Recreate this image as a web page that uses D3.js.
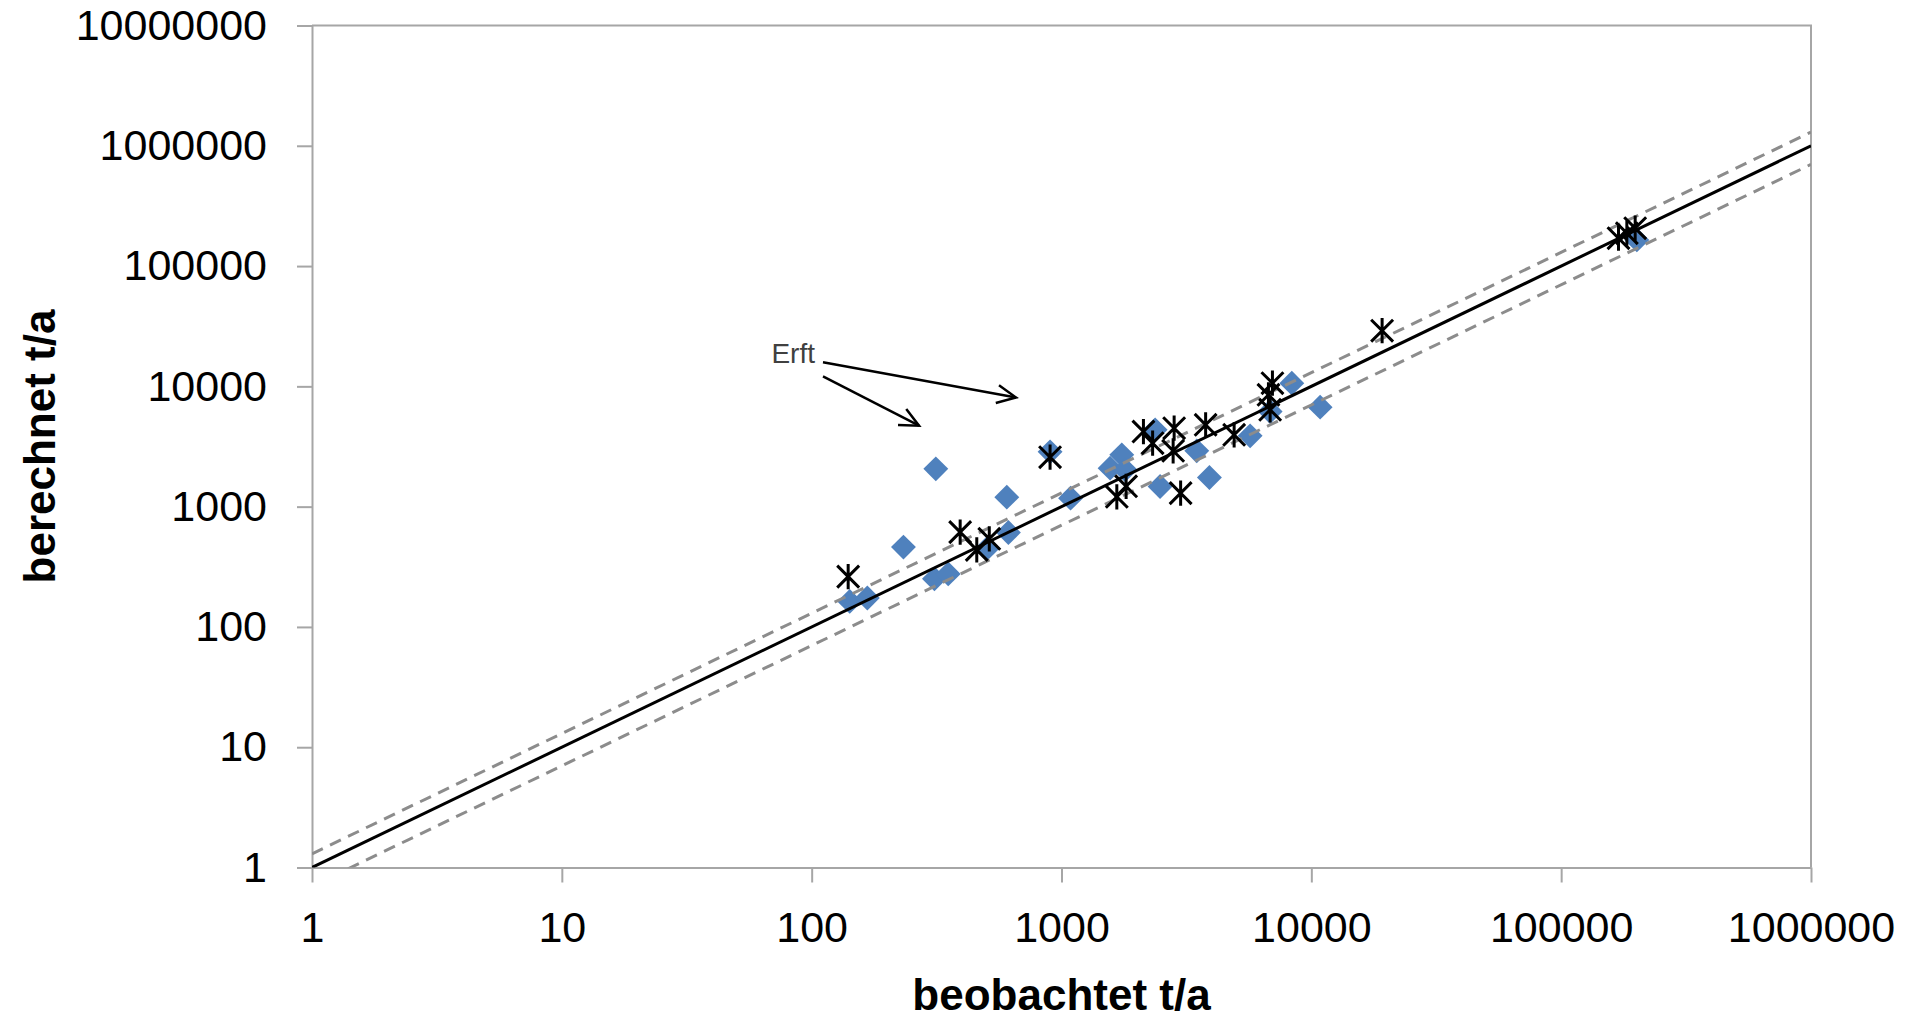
<!DOCTYPE html>
<html>
<head>
<meta charset="utf-8">
<script src="https://cdn.jsdelivr.net/npm/d3@7"></script>
<style>
  html, body { margin: 0; padding: 0; background: #fff; }
  svg { display: block; }
</style>
</head>
<body>
<div id="chart"></div>
<script>
// beobachtet (x) vs. berechnet (y), t/a
const diamondObserved = [142, 167, 233, 310, 352, 314, 505, 613, 604, 900, 1087, 1565, 1743, 1797, 2370, 2481, 3479, 3909, 5689, 6841, 8353, 10845, 200900]
const diamondComputed = [163, 174, 461, 251, 276, 2062, 452, 609, 1199, 2855, 1177, 2089, 2696, 2023, 4348, 1469, 2910, 1745, 3877, 6173, 10630, 6716, 165100]

const starObserved = [140, 393, 458, 514, 900, 1665, 1814, 2128, 2316, 2824, 2798, 2998, 3775, 4909, 6987, 6735, 6841, 19200, 169600, 183200, 197800]
const starComputed = [262, 614, 437, 540, 2579, 1206, 1475, 4210, 3372, 4492, 2910, 1295, 4786, 3952, 10630, 8502, 6378, 29040, 170600, 187700, 206500]

const xTicks = [1, 10, 100, 1000, 10000, 100000, 1000000]
const yTicks = [1, 10, 100, 1000, 10000, 100000, 1000000, 10000000]

// 1:1 line and the two band lines
const lineFactors = [1, 1.3, 0.7]

// annotation "Erft" (data units)
const erftLabel = { text: 'Erft', x: 69, y: 15600 }
const erftArrows = [
  { from: [111, 15850], to: [658, 8070] },
  { from: [111, 12130], to: [269, 4710] }
]

const W = 1921
const H = 1021
const margin = { top: 25.5, right: 110, bottom: 153.5, left: 312 }
const axisColor = '#a6a6a6'
const font = '"Liberation Sans", Arial, sans-serif'

const svg = d3.select('#chart')
  .append('svg')
  .attr('width', W)
  .attr('height', H)

const x = d3.scaleLog()
  .domain([1, 1000000])
  .range([margin.left, W - margin.right])

const y = d3.scaleLog()
  .domain([1, 10000000])
  .range([H - margin.bottom, margin.top])

const defs = svg.append('defs')

defs.append('clipPath')
  .attr('id', 'plot-clip')
  .append('rect')
  .attr('x', x.range()[0])
  .attr('y', y.range()[1])
  .attr('width', x.range()[1] - x.range()[0])
  .attr('height', y.range()[0] - y.range()[1])

defs.append('marker')
  .attr('id', 'open-arrow')
  .attr('markerUnits', 'userSpaceOnUse')
  .attr('viewBox', '-22 -12 26 24')
  .attr('markerWidth', 26)
  .attr('markerHeight', 24)
  .attr('refX', 0)
  .attr('refY', 0)
  .attr('orient', 'auto')
  .append('path')
  .attr('d', 'M-19,-9L0,0L-19,9')
  .attr('fill', 'none')
  .attr('stroke', '#000')
  .attr('stroke-width', 2.5)

// axes
const xAxis = d3.axisBottom(x)
  .tickValues(xTicks)
  .tickFormat(d3.format('d'))
  .tickSize(15)
  .tickSizeOuter(0)
  .tickPadding(29)

const yAxis = d3.axisLeft(y)
  .tickValues(yTicks)
  .tickFormat(d3.format('d'))
  .tickSize(15)
  .tickSizeOuter(0)
  .tickPadding(30)

const gx = svg.append('g')
  .attr('transform', `translate(0,${y.range()[0]})`)
  .call(xAxis)

const gy = svg.append('g')
  .attr('transform', `translate(${x.range()[0]},0)`)
  .call(yAxis)

;[gx, gy].forEach(g => {
  g.selectAll('.domain, .tick line')
    .attr('stroke', axisColor)
    .attr('stroke-width', 2)
  g.selectAll('text')
    .attr('fill', '#000')
    .style('font-family', font)
    .style('font-size', '43px')
})

// top and right frame
svg.append('path')
  .attr('d', `M${x.range()[0]},${y.range()[1]}H${x.range()[1]}V${y.range()[0]}`)
  .attr('fill', 'none')
  .attr('stroke', axisColor)
  .attr('stroke-width', 2)

// axis titles
svg.append('text')
  .attr('x', (x.range()[0] + x.range()[1]) / 2)
  .attr('y', 1010)
  .attr('text-anchor', 'middle')
  .style('font-family', font)
  .style('font-size', '44px')
  .style('font-weight', 'bold')
  .text('beobachtet t/a')

svg.append('text')
  .attr('transform', `translate(55,${(y.range()[0] + y.range()[1]) / 2}) rotate(-90)`)
  .attr('text-anchor', 'middle')
  .style('font-family', font)
  .style('font-size', '44px')
  .style('font-weight', 'bold')
  .text('berechnet t/a')

const plot = svg.append('g').attr('clip-path', 'url(#plot-clip)')

// blue diamonds
const diamond = d3.symbol(d3.symbolSquare, 310)
plot.append('g')
  .selectAll('path')
  .data(diamondObserved.map((d, i) => [d, diamondComputed[i]]))
  .enter()
  .append('path')
  .attr('d', diamond)
  .attr('transform', d => `translate(${x(d[0])},${y(d[1])}) rotate(45)`)
  .attr('fill', '#4f81bd')

// reference lines
const line = d3.line()
  .x(d => x(d[0]))
  .y(d => y(d[1]))

plot.append('g')
  .selectAll('path')
  .data(lineFactors)
  .enter()
  .append('path')
  .attr('d', f => line(x.domain().map(v => [v, v * f])))
  .attr('fill', 'none')
  .attr('stroke', f => f === 1 ? '#000' : '#8c8c8c')
  .attr('stroke-width', 3)
  .attr('stroke-dasharray', f => f === 1 ? null : '12,8')

// black star markers (X with a vertical bar)
const starType = {
  draw(ctx, size) {
    const r = Math.sqrt(size) / 2
    ctx.moveTo(-r, -r)
    ctx.lineTo(r, r)
    ctx.moveTo(-r, r)
    ctx.lineTo(r, -r)
    ctx.moveTo(0, -r * 1.15)
    ctx.lineTo(0, r * 1.15)
  }
}
const star = d3.symbol(starType, 480)
plot.append('g')
  .selectAll('path')
  .data(starObserved.map((d, i) => [d, starComputed[i]]))
  .enter()
  .append('path')
  .attr('d', star)
  .attr('transform', d => `translate(${x(d[0])},${y(d[1])})`)
  .attr('fill', 'none')
  .attr('stroke', '#000')
  .attr('stroke-width', 3)

// annotation
svg.append('text')
  .attr('x', x(erftLabel.x))
  .attr('y', y(erftLabel.y))
  .attr('fill', '#404040')
  .style('font-family', font)
  .style('font-size', '28px')
  .text(erftLabel.text)

svg.append('g')
  .selectAll('line')
  .data(erftArrows)
  .enter()
  .append('line')
  .attr('x1', d => x(d.from[0]))
  .attr('y1', d => y(d.from[1]))
  .attr('x2', d => x(d.to[0]))
  .attr('y2', d => y(d.to[1]))
  .attr('stroke', '#000')
  .attr('stroke-width', 2.5)
  .attr('marker-end', 'url(#open-arrow)')
</script>
</body>
</html>
